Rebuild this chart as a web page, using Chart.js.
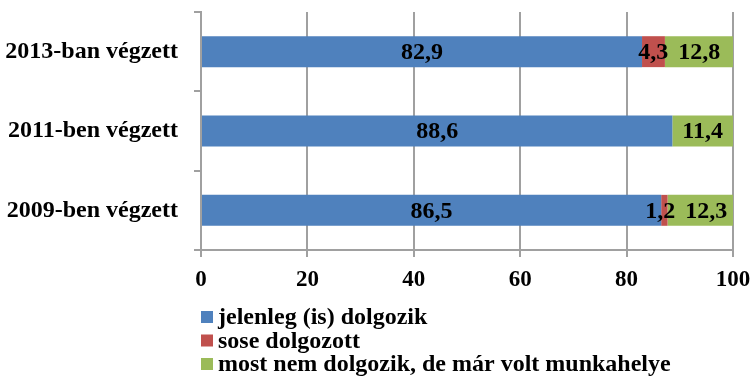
<!DOCTYPE html>
<html lang="hu">
<head>
    <meta charset="UTF-8">
    <title>Végzettek munkavállalása</title>
    <script src="https://cdn.jsdelivr.net/npm/chart.js"></script>
    <style>
        html, body {
            margin: 0;
            padding: 0;
            background: #fff;
        }
        #wrap {
            width: 753px;
            height: 376px;
        }
    </style>
</head>
<body>
    <div id="wrap">
        <canvas id="jobChart" width="753" height="376"></canvas>
    </div>

    <script>
        const categories = ['2013-ban végzett', '2011-ben végzett', '2009-ben végzett'];
        const seriesNames = ['jelenleg (is) dolgozik', 'sose dolgozott', 'most nem dolgozik, de már volt munkahelye'];
        const dolgozik = [82.9, 88.6, 86.5];
        const soseDolgozott = [4.3, 0, 1.2];
        const voltMunkahelye = [12.8, 11.4, 12.3];
        const xTicks = [0, 20, 40, 60, 80, 100];
        const colors = ['#4F81BD', '#C0504D', '#9BBB59'];

        const FONT = 'Liberation Serif, Times New Roman, serif';
        const GRID = '#A0A0A0';

        // értékek a szegmensek közepére, vesszős tizedesjellel;
        // ha két felirat egymásba érne, széthúzzuk őket
        const valueLabels = {
            id: 'valueLabels',
            afterDatasetsDraw(chart) {
                const ctx = chart.ctx;
                const gap = 10;
                ctx.save();
                ctx.font = 'bold 24px ' + FONT;
                ctx.fillStyle = '#000';
                ctx.textAlign = 'center';
                ctx.textBaseline = 'middle';
                chart.data.labels.forEach((_, j) => {
                    const items = [];
                    chart.data.datasets.forEach((ds, i) => {
                        const v = ds.data[j];
                        if (!v) return;
                        const bar = chart.getDatasetMeta(i).data[j];
                        const text = v.toFixed(1).replace('.', ',');
                        items.push({ text, x: (bar.x + bar.base) / 2, y: bar.y, w: ctx.measureText(text).width });
                    });
                    for (let k = 1; k < items.length; k++) {
                        const prev = items[k - 1];
                        const cur = items[k];
                        const overlap = (prev.x + prev.w / 2 + gap) - (cur.x - cur.w / 2);
                        if (overlap > 0) {
                            const back = Math.min(4, overlap / 2);
                            prev.x -= back;
                            cur.x += overlap - back;
                        }
                    }
                    items.forEach(it => ctx.fillText(it.text, it.x, it.y + 1));
                });
                ctx.restore();
            }
        };

        // jelmagyarázat egymás alatt, bal oldalon
        const listLegend = {
            id: 'listLegend',
            afterDraw(chart) {
                const ctx = chart.ctx;
                const left = chart.chartArea.left;
                ctx.save();
                ctx.font = 'bold 24px ' + FONT;
                ctx.textAlign = 'left';
                ctx.textBaseline = 'middle';
                chart.data.datasets.forEach((ds, i) => {
                    const y = 317 + i * 23.5;
                    ctx.fillStyle = ds.backgroundColor;
                    ctx.fillRect(left, y - 6, 12, 12);
                    ctx.fillStyle = '#000';
                    ctx.fillText(ds.label, left + 17, y + 1);
                });
                ctx.restore();
            }
        };

        const ctx = document.getElementById('jobChart').getContext('2d');
        new Chart(ctx, {
            type: 'bar',
            data: {
                labels: categories,
                datasets: [
                    { label: seriesNames[0], data: dolgozik, backgroundColor: colors[0] },
                    { label: seriesNames[1], data: soseDolgozott, backgroundColor: colors[1] },
                    { label: seriesNames[2], data: voltMunkahelye, backgroundColor: colors[2] }
                ]
            },
            options: {
                indexAxis: 'y',
                responsive: false,
                animation: false,
                devicePixelRatio: 1,
                datasets: {
                    bar: {
                        categoryPercentage: 1,
                        barPercentage: 0.39
                    }
                },
                layout: {
                    padding: { top: 12, right: 20, bottom: 0, left: 0 }
                },
                plugins: {
                    legend: { display: false },
                    tooltip: { enabled: false }
                },
                scales: {
                    x: {
                        stacked: true,
                        min: 0,
                        max: 100,
                        afterBuildTicks(scale) {
                            scale.ticks = xTicks.map(v => ({ value: v }));
                        },
                        afterFit(scale) {
                            scale.height = 126;
                            scale.paddingLeft = 0;
                            scale.paddingRight = 0;
                        },
                        grid: {
                            color: GRID,
                            lineWidth: 2,
                            tickLength: 7
                        },
                        border: { color: GRID, width: 2 },
                        ticks: {
                            padding: 9,
                            color: '#000',
                            font: { family: FONT, size: 23, weight: 'bold' }
                        }
                    },
                    y: {
                        stacked: true,
                        afterFit(scale) {
                            scale.width = 201;
                            scale.paddingTop = 0;
                            scale.paddingBottom = 0;
                        },
                        grid: {
                            offset: true,
                            drawOnChartArea: false,
                            color: GRID,
                            lineWidth: 2,
                            tickLength: 7
                        },
                        border: { color: GRID, width: 2 },
                        ticks: {
                            padding: 16,
                            color: '#000',
                            font: { family: FONT, size: 24, weight: 'bold' }
                        }
                    }
                }
            },
            plugins: [valueLabels, listLegend]
        });
    </script>
</body>
</html>
